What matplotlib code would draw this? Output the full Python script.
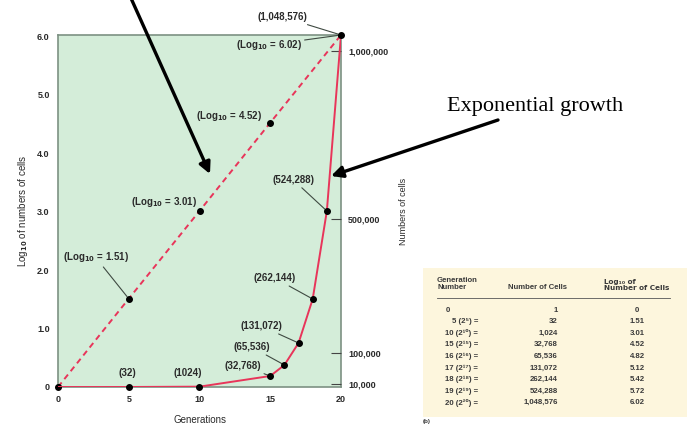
import numpy as np
import matplotlib
matplotlib.use("Agg")
import matplotlib.pyplot as plt
from matplotlib.ticker import FuncFormatter

matplotlib.rcParams['font.family'] = ['Liberation Sans', 'DejaVu Sans']
matplotlib.rcParams['font.weight'] = 'bold'

# data from the table
generations = [0, 5, 10, 15, 16, 17, 18, 19, 20]
cells = [1, 32, 1024, 32768, 65536, 131072, 262144, 524288, 1048576]
log_cells = [0, 1.51, 3.01, 4.52, 4.82, 5.12, 5.42, 5.72, 6.02]
cell_text = ["1", "32", "1,024", "32,768", "65,536", "131,072", "262,144", "524,288", "1,048,576"]

left_ticks = [0, 1, 2, 3, 4, 5, 6]
right_ticks = [10000, 100000, 500000, 1000000]
x_ticks = [0, 5, 10, 15, 20]

green = '#d4edd9'
red = '#e8355a'
spine = '#7d9183'
txt = '#2a2a2a'
sup = str.maketrans("0123456789", "⁰¹²³⁴⁵⁶⁷⁸⁹")

fig = plt.figure(figsize=(6.91, 4.30), dpi=100)
ax = fig.add_axes([58/691, 1-387/430, (341-58)/691, (387-35)/430])
ax.set_facecolor(green)
for s in ax.spines.values():
    s.set_color(spine)
    s.set_linewidth(1.2)

# log scale (dashed)
ax.plot(generations, log_cells, '--', color=red, lw=1.4, dashes=(3, 2.2), zorder=3)
m5 = [i for i, g in enumerate(generations) if g % 5 == 0]
ax.plot([generations[i] for i in m5], [log_cells[i] for i in m5], 'o', color='black', ms=4, zorder=5)
ax.set_xlim(0, 20)
ax.set_ylim(0, 6.02)
ax.set_xticks(x_ticks)
ax.set_yticks(left_ticks)
ax.yaxis.set_major_formatter(FuncFormatter(lambda v, p: "0" if v == 0 else f"{v:.1f}"))
ax.tick_params(length=0, labelsize=6.5, labelcolor=txt, pad=6)
ax.set_xlabel("Generations", fontsize=7, color=txt, labelpad=8)
ax.set_ylabel("Log$_{10}$ of numbers of cells", fontsize=7, color=txt, labelpad=5)

# arithmetic scale (solid)
ax2 = ax.twinx()
ax2.plot(generations, cells, '-', color=red, lw=1.4, zorder=3)
ax2.plot(generations[1:], cells[1:], 'o', color='black', ms=4, zorder=5, clip_on=False)
ax2.set_ylim(0, 1048576)
ax2.set_yticks(right_ticks)
ax2.yaxis.set_major_formatter(FuncFormatter(lambda v, p: f"{int(v):,}"))
ax2.tick_params(axis='y', direction='in', length=7, width=0.8, color='#444444',
                labelsize=6.5, labelcolor=txt, pad=5)
for s in ax2.spines.values():
    s.set_visible(False)
ax2.set_ylabel("Numbers of cells", fontsize=6.5, color=txt, labelpad=8)
ax.plot([0], [0], 'o', color='black', ms=4, zorder=6, clip_on=False)

akw = dict(fontsize=7, color=txt, fontweight='bold', ha='center', va='center',
           annotation_clip=False)
lead = dict(arrowstyle='-', color='#3f4a42', lw=0.8, shrinkA=0, shrinkB=2)

# log labels
ax.annotate("(Log$_{\\mathbf{10}}$ = 6.02)", xy=(20, 6.02), xytext=(14.9, 5.85), arrowprops=lead, **akw)
ax.annotate("(Log$_{\\mathbf{10}}$ = 4.52)", xy=(15, 4.52), xytext=(12.1, 4.64), **akw)
ax.annotate("(Log$_{\\mathbf{10}}$ = 3.01)", xy=(10, 3.01), xytext=(7.5, 3.16), **akw)
ax.annotate("(Log$_{\\mathbf{10}}$ = 1.51)", xy=(5, 1.51), xytext=(2.65, 2.22), arrowprops=lead, **akw)

# cell count labels
cell_labels = {
    20: ("(1,048,576)", (15.85, 6.33), True),
    19: ("(524,288)", (16.64, 3.54), True),
    18: ("(262,144)", (15.34, 1.86), True),
    17: ("(131,072)", (14.38, 1.04), True),
    16: ("(65,536)", (13.71, 0.68), True),
    15: ("(32,768)", (13.07, 0.36), True),
    10: ("(1024)", (9.19, 0.24), False),
    5: ("(32)", (4.91, 0.24), False),
}
for g, c in zip(generations, cells):
    if g in cell_labels:
        lab, pos, has_lead = cell_labels[g]
        ax.annotate(lab, xy=(g, c / 1048576 * 6.02), xytext=pos,
                    arrowprops=lead if has_lead else None, **akw)

# big pointer arrows
fig.text(447/691, 1-107/430, "Exponential growth", fontsize=16, family='Liberation Serif',
         fontweight='normal', color='black', va='center', ha='left')
big = dict(arrowstyle='-|>', color='black', lw=2.4, mutation_scale=17, shrinkA=0, shrinkB=0)
fig.add_artist(matplotlib.patches.FancyArrowPatch((498/691, 1-120/430), (331/691, 1-176/430),
                                                  transform=fig.transFigure, **big))
fig.add_artist(matplotlib.patches.FancyArrowPatch((130/691, 1+4/430), (210/691, 1-174/430),
                                                  transform=fig.transFigure, **big))

# table panel
tb = fig.add_axes([423/691, 1-417/430, (687-423)/691, (417-268)/430])
tb.set_xlim(423, 687)
tb.set_ylim(417, 268)
tb.axis('off')
tb.add_patch(matplotlib.patches.Rectangle((423, 268), 264, 149, color='#fdf6dd', zorder=0))
tk = dict(fontsize=5.6, color='#3a3a3a', fontweight='bold')
tb.text(437, 291, "Generation\nNumber", ha='left', va='bottom', linespacing=1.0, **tk)
tb.text(567, 291, "Number of Cells", ha='right', va='bottom', **tk)
tb.text(604, 291, "Log₁₀ of\nNumber of Cells", ha='left', va='bottom', linespacing=1.0,
        family=['DejaVu Sans'], fontsize=5.2, color='#3a3a3a', fontweight='bold')
tb.plot([437, 670], [298, 298], color='#555555', lw=0.6)
for i, (g, ct, lg) in enumerate(zip(generations, cell_text, log_cells)):
    y = 310 + i * 11.6
    if g == 0:
        tb.text(448, y, "0", ha='center', va='center', **tk)
    else:
        tb.text(478, y, f"{g} (2{str(g).translate(sup)}) =", ha='right', va='center',
                family=['Liberation Sans', 'DejaVu Sans'], **tk)
    tb.text(558, y, ct, ha='right', va='center', **tk)
    tb.text(637, y, "0" if lg == 0 else f"{lg:.2f}", ha='center', va='center', **tk)
fig.text(423/691, 1-422/430, "(b)", fontsize=4.5, color='#3a3a3a', va='center', ha='left')

fig.savefig("out.png", dpi=100)
